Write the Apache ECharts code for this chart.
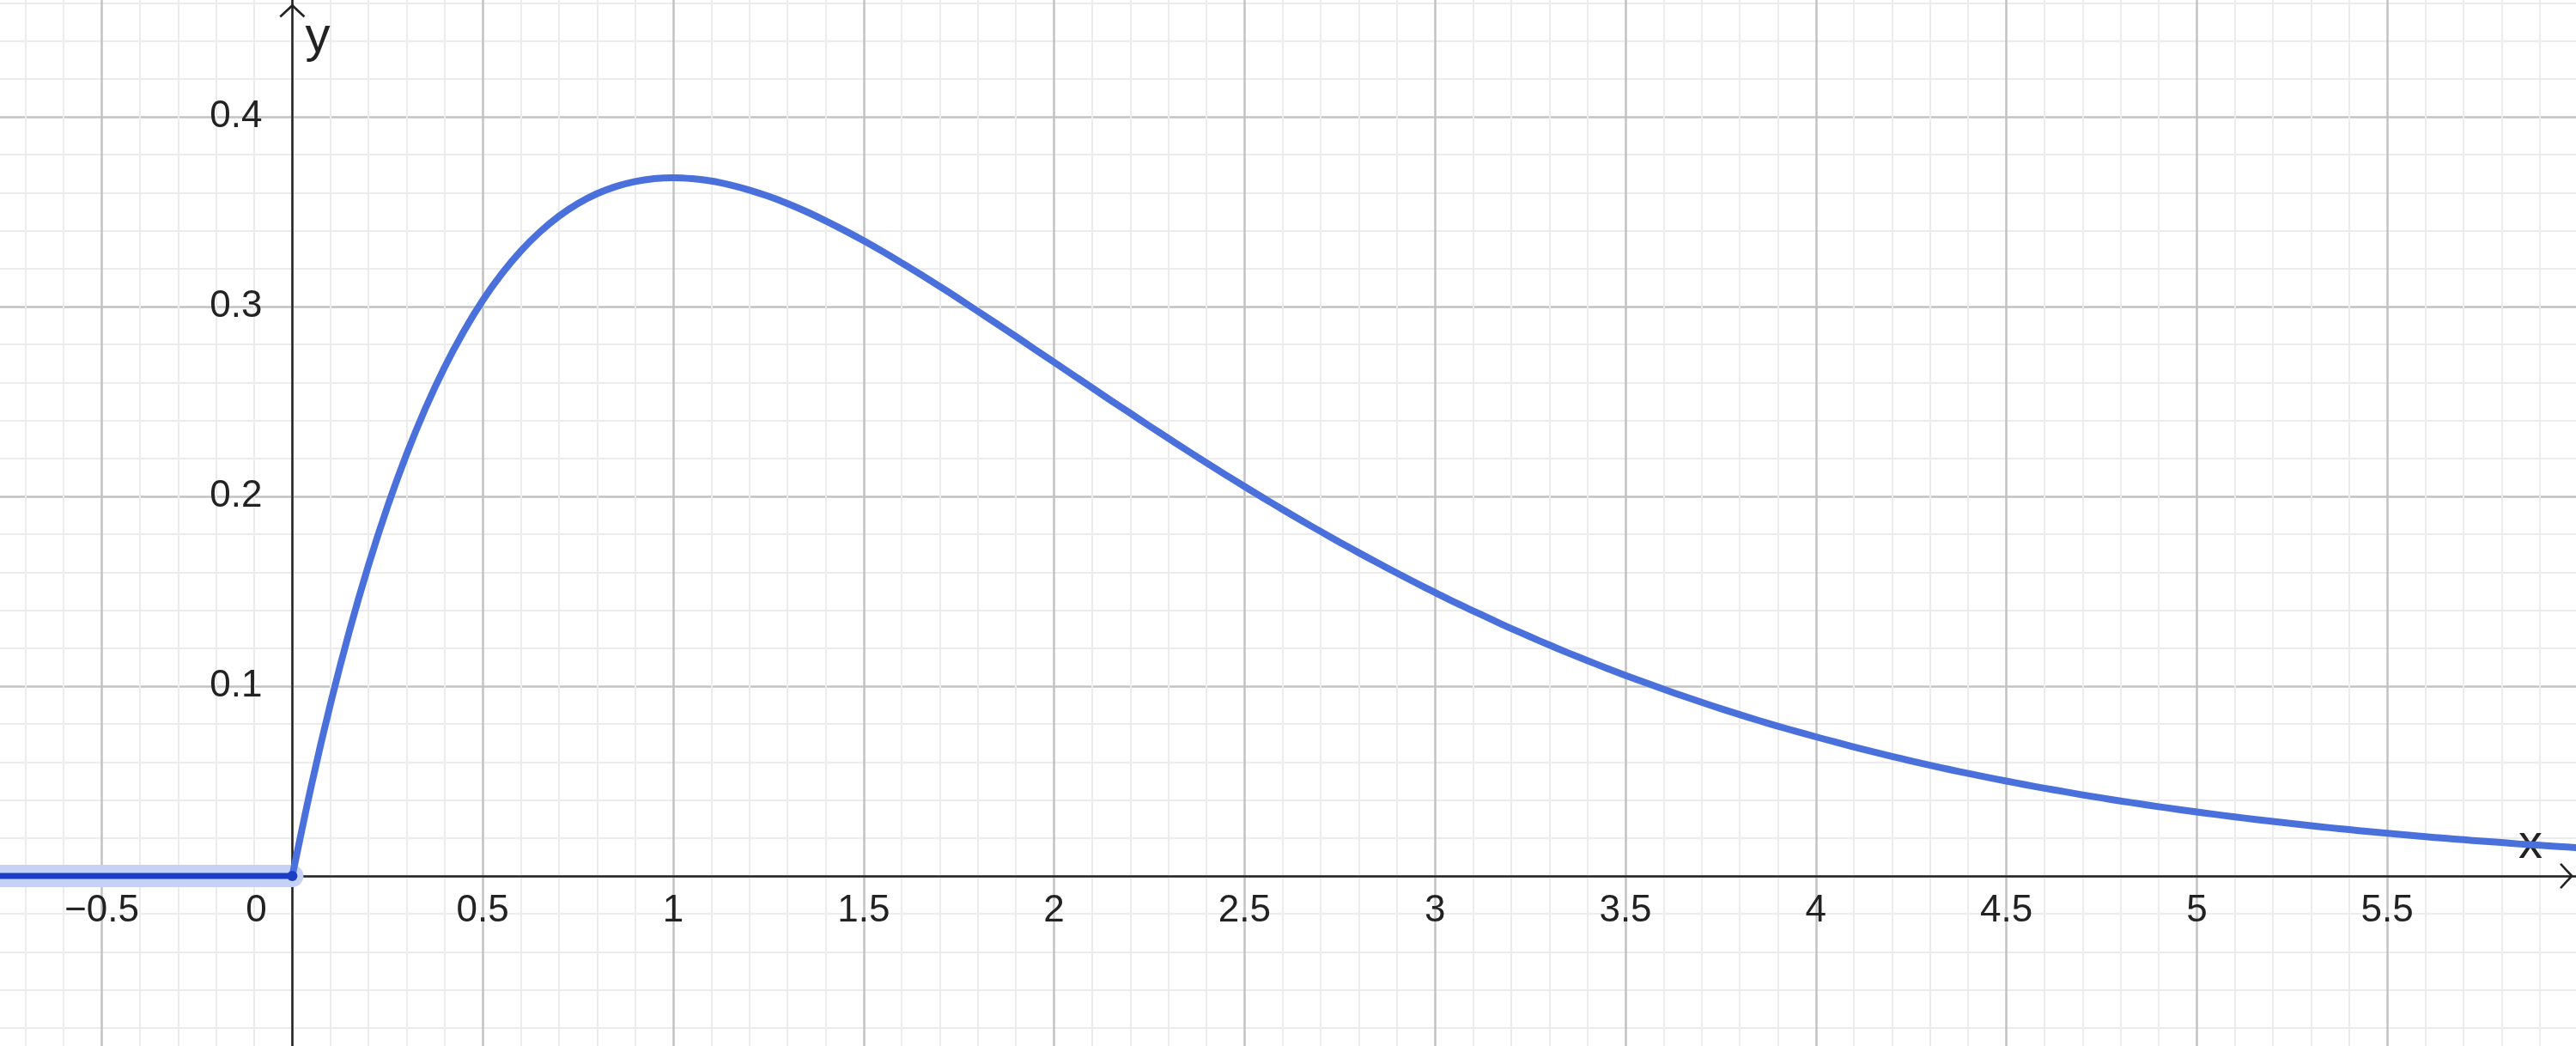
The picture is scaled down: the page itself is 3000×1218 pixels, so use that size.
<!DOCTYPE html>
<html>
<head>
<meta charset="utf-8">
<script src="https://cdn.jsdelivr.net/npm/echarts@6/dist/echarts.min.js"></script>
<style>
html,body{margin:0;padding:0;background:#fff;}
#c{width:3000px;height:1218px;}
</style>
</head>
<body>
<div id="c"></div>
<script>
// ---- data ----
const leftX = [-1, 0];
const leftY = [0, 0];
const curveX = [0, 0.05, 0.1, 0.15, 0.2, 0.25, 0.3, 0.35, 0.4, 0.45, 0.5, 0.55, 0.6, 0.65, 0.7, 0.75, 0.8, 0.85, 0.9, 0.95, 1.0,
  1.05, 1.1, 1.15, 1.2, 1.25, 1.3, 1.35, 1.4, 1.45, 1.5, 1.55, 1.6, 1.65, 1.7, 1.75, 1.8, 1.85, 1.9, 1.95, 2.0,
  2.05, 2.1, 2.15, 2.2, 2.25, 2.3, 2.35, 2.4, 2.45, 2.5, 2.55, 2.6, 2.65, 2.7, 2.75, 2.8, 2.85, 2.9, 2.95, 3.0,
  3.05, 3.1, 3.15, 3.2, 3.25, 3.3, 3.35, 3.4, 3.45, 3.5, 3.55, 3.6, 3.65, 3.7, 3.75, 3.8, 3.85, 3.9, 3.95, 4.0,
  4.05, 4.1, 4.15, 4.2, 4.25, 4.3, 4.35, 4.4, 4.45, 4.5, 4.55, 4.6, 4.65, 4.7, 4.75, 4.8, 4.85, 4.9, 4.95, 5.0,
  5.05, 5.1, 5.15, 5.2, 5.25, 5.3, 5.35, 5.4, 5.45, 5.5, 5.55, 5.6, 5.65, 5.7, 5.75, 5.8, 5.85, 5.9, 5.95, 6.0];
const curveY = [0, 0.0476, 0.0905, 0.1291, 0.1637, 0.1947, 0.2222, 0.2466, 0.2681, 0.2869, 0.3033, 0.3173, 0.3293, 0.3393, 0.3476, 0.3543, 0.3595, 0.3633, 0.3659, 0.3674, 0.3679,
  0.3674, 0.3662, 0.3641, 0.3614, 0.3581, 0.3543, 0.3500, 0.3452, 0.3401, 0.3347, 0.3290, 0.3230, 0.3169, 0.3106, 0.3041, 0.2975, 0.2909, 0.2842, 0.2774, 0.2707,
  0.2639, 0.2572, 0.2504, 0.2438, 0.2371, 0.2306, 0.2241, 0.2177, 0.2114, 0.2052, 0.1991, 0.1931, 0.1872, 0.1815, 0.1758, 0.1703, 0.1649, 0.1596, 0.1544, 0.1494,
  0.1444, 0.1397, 0.1350, 0.1304, 0.1260, 0.1217, 0.1175, 0.1135, 0.1095, 0.1057, 0.1020, 0.0984, 0.0949, 0.0915, 0.0882, 0.0850, 0.0819, 0.0789, 0.0761, 0.0733,
  0.0706, 0.0679, 0.0654, 0.0630, 0.0606, 0.0583, 0.0561, 0.0540, 0.0520, 0.0500, 0.0481, 0.0462, 0.0445, 0.0427, 0.0411, 0.0395, 0.0380, 0.0365, 0.0351, 0.0337,
  0.0324, 0.0311, 0.0299, 0.0287, 0.0276, 0.0265, 0.0254, 0.0244, 0.0234, 0.0225, 0.0216, 0.0207, 0.0199, 0.0191, 0.0183, 0.0176, 0.0168, 0.0162, 0.0155, 0.0149];
const xTickLabels = ['\u22120.5', '0', '0.5', '1', '1.5', '2', '2.5', '3', '3.5', '4', '4.5', '5', '5.5'];
const yTickLabels = ['0.1', '0.2', '0.3', '0.4'];

const zip = (xs, ys) => xs.map((x, i) => [x, ys[i]]);

const axisColor = '#222222';
const majorGrid = '#c2c2c2';
const minorGrid = '#ececec';
const font = '"Liberation Sans", Arial, Helvetica, sans-serif';
const chevron = 'path://M0,14 L15,0 L30,14 L28.2,15.8 L15,3.6 L1.8,15.8 Z';

function fmtX(v) {
  const s = (Math.round(v * 10) / 10).toString().replace('-', '\u2212');
  if (xTickLabels.indexOf(s) < 0) return '';
  if (s === '0') return '{z|0}';
  return s;
}
function fmtY(v) {
  const s = (Math.round(v * 10) / 10).toString();
  return yTickLabels.indexOf(s) < 0 ? '' : s;
}

const X0 = 340.4, Y0 = 1020;   // pixel position of the origin (layout)
const hidden = {show: false};

const chart = echarts.init(document.getElementById('c'), null, {renderer: 'canvas'});
chart.setOption({
  animation: false,
  backgroundColor: '#ffffff',
  grid: [
    {left: -103.2, right: -2, top: -85, bottom: -23, outerBoundsMode: 'none', containLabel: false},
    {left: -103.2, right: -2, top: -85, bottom: 1218 - Y0, outerBoundsMode: 'none', containLabel: false},
    {left: X0, right: -2, top: -85, bottom: -23, outerBoundsMode: 'none', containLabel: false}
  ],
  xAxis: [
    {
      gridIndex: 0, type: 'value', min: -1, max: 6, interval: 0.5,
      axisLine: hidden, axisTick: hidden, axisLabel: hidden,
      minorTick: {show: false, splitNumber: 5},
      splitLine: {show: true, lineStyle: {color: majorGrid, width: 2.5}},
      minorSplitLine: {show: true, lineStyle: {color: minorGrid, width: 2}}
    },
    {
      gridIndex: 1, type: 'value', min: -1, max: 6, interval: 0.5, position: 'bottom',
      name: 'x', nameLocation: 'end', nameGap: -69,
      nameTextStyle: {fontFamily: font, fontSize: 56, color: axisColor, align: 'left', verticalAlign: 'bottom', padding: [0, 0, 8, 0]},
      axisLine: {onZero: false, lineStyle: {color: axisColor, width: 2.5}, symbol: ['none', chevron], symbolSize: [30, 16], symbolOffset: [0, -13]},
      axisTick: hidden, splitLine: hidden,
      axisLabel: {formatter: fmtX, fontFamily: font, fontSize: 44, color: axisColor, margin: 19,
        rich: {z: {fontFamily: font, fontSize: 44, color: axisColor, padding: [0, 84, 0, 0]}}}
    },
    {gridIndex: 2, type: 'value', min: 0, max: 6, show: false}
  ],
  yAxis: [
    {
      gridIndex: 0, type: 'value', min: -0.1, max: 0.5, interval: 0.1,
      axisLine: hidden, axisTick: hidden, axisLabel: hidden,
      minorTick: {show: false, splitNumber: 5},
      splitLine: {show: true, lineStyle: {color: majorGrid, width: 2.5}},
      minorSplitLine: {show: true, lineStyle: {color: minorGrid, width: 2}}
    },
    {gridIndex: 1, type: 'value', min: 0, max: 0.5, show: false},
    {
      gridIndex: 2, type: 'value', min: -0.1, max: 0.5, interval: 0.1, position: 'left',
      name: 'y', nameLocation: 'end', nameGap: -100,
      nameTextStyle: {fontFamily: font, fontSize: 58, color: axisColor, align: 'left', verticalAlign: 'top', padding: [0, 0, 0, 15]},
      axisLine: {onZero: false, lineStyle: {color: axisColor, width: 2.5}, symbol: ['none', chevron], symbolSize: [30, 16], symbolOffset: [0, -97.5]},
      axisTick: hidden, splitLine: hidden,
      axisLabel: {formatter: fmtY, fontFamily: font, fontSize: 44, color: axisColor, margin: 35}
    }
  ],
  series: [
    {
      type: 'line', xAxisIndex: 0, yAxisIndex: 0, data: zip(leftX, leftY), symbol: 'none', z: 3, silent: true,
      clip: false,
      lineStyle: {color: '#c6d2f5', width: 26, cap: 'round'}
    },
    {
      type: 'line', xAxisIndex: 0, yAxisIndex: 0, data: zip(curveX, curveY), symbol: 'none', z: 4, silent: true,
      smooth: 0.3,
      lineStyle: {color: '#4a70dc', width: 8, cap: 'round', join: 'round'}
    },
    {
      type: 'line', xAxisIndex: 0, yAxisIndex: 0, z: 5, silent: true,
      data: zip(leftX, leftY).map((p, i) => i === leftX.length - 1
        ? {value: p, symbol: 'circle', symbolSize: 12}
        : {value: p, symbol: 'none'}),
      showAllSymbol: true,
      itemStyle: {color: '#1b3fc4'},
      lineStyle: {color: '#1b3fc4', width: 7}
    }
  ]
});
</script>
</body>
</html>
